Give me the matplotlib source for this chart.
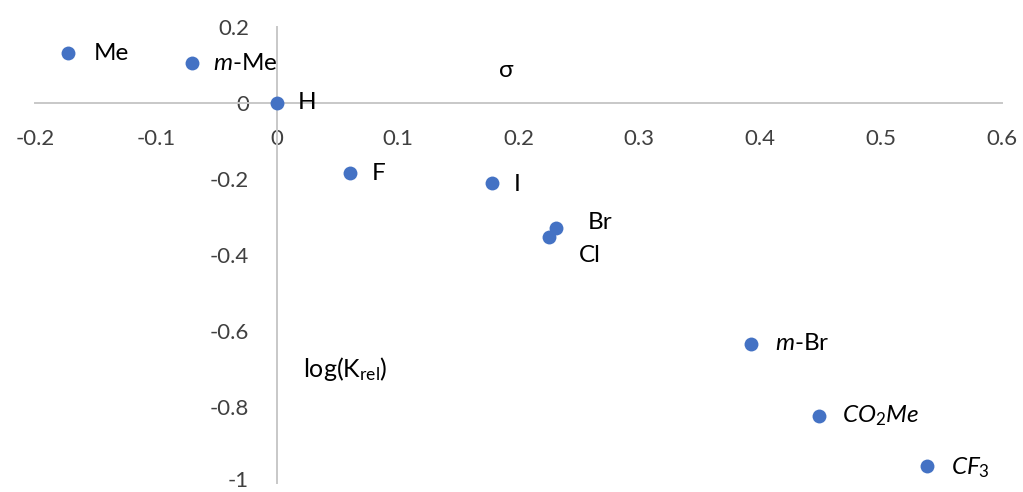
import matplotlib
matplotlib.use("Agg")
import matplotlib.pyplot as plt
import matplotlib.transforms as mtransforms

# Data
labels = [r"Me", r"$\mathit{m}$-Me", "H", "F", "I", "Br", "Cl",
          r"$\mathit{m}$-Br", r"$\mathit{CO_2Me}$", r"$\mathit{CF_3}$"]
sigma = [-0.173, -0.070, 0.0, 0.061, 0.178, 0.231, 0.225, 0.392, 0.449, 0.538]
logk = [0.131, 0.104, 0.0, -0.185, -0.211, -0.330, -0.353, -0.634, -0.823, -0.955]
# label offsets in pixels (dx, dy)
offsets = [(26, 0), (21, 0), (21, 0), (21, 0), (22, -1), (32, 6), (30, -18),
           (24, 0), (23, 0), (24, -2)]
xticks = [-0.2, -0.1, 0, 0.1, 0.2, 0.3, 0.4, 0.5, 0.6]
yticks = [-1, -0.8, -0.6, -0.4, -0.2, 0, 0.2]

plt.rcParams['font.family'] = ['Lato', 'DejaVu Sans']
plt.rcParams['mathtext.fontset'] = 'custom'
plt.rcParams['mathtext.rm'] = 'Lato'
plt.rcParams['mathtext.it'] = 'Lato:italic'

fig = plt.figure(figsize=(10.23, 4.92), dpi=100)
ax = fig.add_axes([35/1023, 9/492, (1002-35)/1023, (483-27)/492])
ax.set_xlim(-0.2, 0.6)
ax.set_ylim(-1, 0.2)

ax.scatter(sigma, logk, s=100, color='#4472C4', zorder=3, clip_on=False, linewidths=0)

for lab, x, y, (dx, dy) in zip(labels, sigma, logk, offsets):
    ax.annotate(lab, (x, y), xytext=(dx * 0.72, dy * 0.72), textcoords='offset points',
                ha='left', va='center', fontsize=17.5, color='black')

for s in ['top', 'right']:
    ax.spines[s].set_visible(False)
ax.spines['left'].set_position(('data', 0))
ax.spines['bottom'].set_position(('data', 0))
for s in ['left', 'bottom']:
    ax.spines[s].set_color('#c8c8c8')
    ax.spines[s].set_linewidth(1.4)

ax.set_xticks(xticks)
ax.set_yticks(yticks)
ax.set_xticklabels([f"{v:g}" for v in xticks])
ax.set_yticklabels([f"{v:g}" for v in yticks])
ax.tick_params(axis='x', length=0, pad=19, labelsize=16, labelcolor='#404040')
ax.tick_params(axis='y', length=0, pad=20, labelsize=16, labelcolor='#404040')
ax.patch.set_visible(False)

# nudge the lowest y label up slightly so it stays inside the figure
lowest = ax.get_yticklabels()[0]
lowest.set_transform(lowest.get_transform() +
                     mtransforms.ScaledTranslation(0, 4/100, fig.dpi_scale_trans))

ax.text(0.19, 0.086, "σ", fontsize=17.5, ha='center', va='center', color='black')
ax.text(0.022, -0.70, r"log(K$_{\mathrm{rel}}$)", fontsize=18, ha='left', va='center', color='black')

fig.savefig("out.png", dpi=100)
